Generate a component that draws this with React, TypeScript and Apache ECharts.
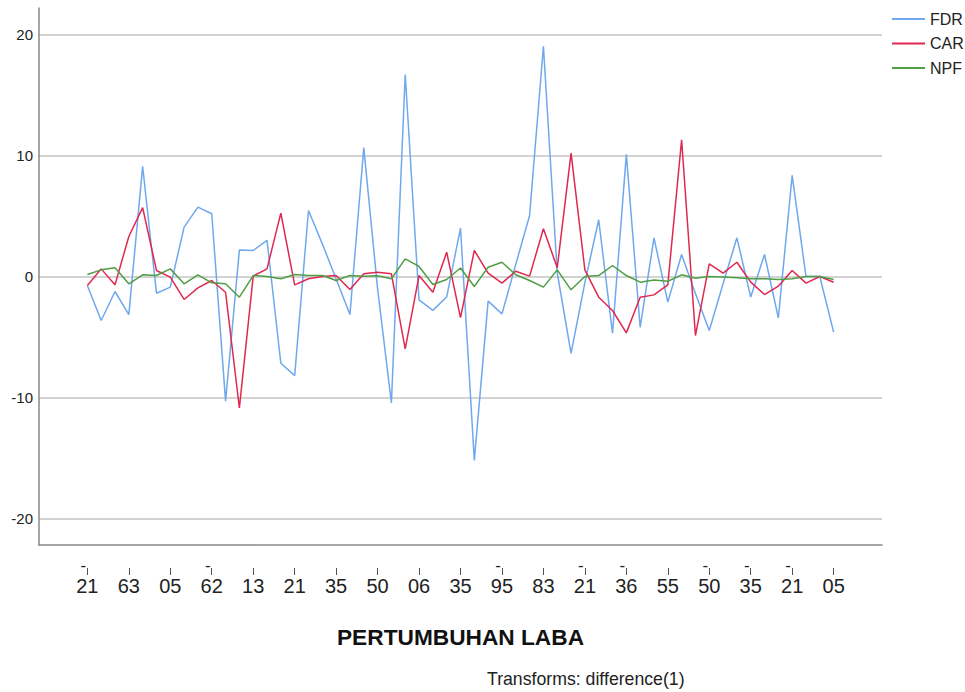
import React, { useEffect, useRef } from "react";
import * as echarts from "echarts";

// Tick labels shown every third observation
const categoryLabels = ["-21", "63", "05", "-62", "13", "21", "35", "50", "06", "35", "-95", "83", "-21", "-36", "55", "-50", "-35", "-21", "05"];
const labelStep = 3;

// Differenced series (55 observations)
const fdr = [-0.75, -3.64, -1.24, -3.15, 9.1, -1.38, -0.88, 4.08, 5.74, 5.19, -10.3, 2.2, 2.15, 2.98, -7.17, -8.2, 5.46, 2.7, -0.2, -3.15, 10.65, -1.0, -10.46, 16.7, -1.93, -2.8, -1.7, 4.0, -15.2, -2.04, -3.09, 1.0, 5.05, 19.04, 0.3, -6.35, -0.5, 4.69, -4.69, 10.1, -4.2, 3.2, -2.12, 1.82, -1.4, -4.47, -0.6, 3.2, -1.7, 1.82, -3.42, 8.36, 0, 0, -4.6];
const car = [-0.75, 0.63, -0.69, 3.31, 5.69, 0.5, -0.05, -1.9, -0.94, -0.33, -1.3, -10.87, 0.03, 0.63, 5.24, -0.69, -0.19, 0, 0.08, -1.08, 0.22, 0.36, 0.22, -5.99, 0.08, -1.3, 2.01, -3.4, 2.15, 0.28, -0.55, 0.44, 0.03, 3.95, 0.72, 10.2, 0.55, -1.71, -2.81, -4.66, -1.71, -1.52, -0.69, 11.31, -4.88, 1.05, 0.28, 1.18, -0.47, -1.49, -0.8, 0.5, -0.55, 0, -0.47];
const npf = [0.17, 0.55, 0.72, -0.6, 0.14, 0.08, 0.63, -0.6, 0.14, -0.52, -0.6, -1.71, 0.08, 0, -0.19, 0.17, 0.08, 0.08, -0.33, 0.08, 0.03, 0.06, -0.19, 1.46, 0.83, -0.66, -0.25, 0.7, -0.83, 0.77, 1.18, 0.14, -0.33, -0.88, 0.55, -1.1, 0, 0.08, 0.91, 0.08, -0.47, -0.28, -0.39, 0.14, -0.14, 0, -0.05, -0.11, -0.19, -0.19, -0.25, -0.19, 0, 0, -0.25];

const yTicks = [-20, -10, 0, 10, 20];
const seriesNames = ["FDR", "CAR", "NPF"];
const seriesColors = ["#6fa8ee", "#e0284f", "#4f9d45"];

const FONT = "'Liberation Sans', Arial, sans-serif";

export default function App() {
  const ref = useRef<HTMLDivElement>(null);
  useEffect(() => {
    const chart = echarts.init(ref.current!, null, { renderer: "svg" });
    const labelPositions = categoryLabels.map((_, k) => k * labelStep);
    const toPairs = (arr: number[]) => arr.map((v, i) => [i, v]);
    const option: any = {
      animation: false,
      backgroundColor: "#ffffff",
      grid: { left: 39, right: 83, top: 8, bottom: 147, containLabel: false },
      legend: {
        data: seriesNames,
        orient: "vertical",
        left: 887,
        top: 6,
        icon: "rect",
        itemWidth: 33,
        itemHeight: 2,
        itemGap: 8.5,
        textStyle: { fontSize: 16, color: "#222", fontFamily: FONT, lineHeight: 16 },
      },
      xAxis: [
        {
          type: "value",
          min: -3.5,
          max: 57.5,
          axisLine: { show: true, onZero: false, lineStyle: { color: "#888", width: 1.5 } },
          axisTick: { show: false },
          splitLine: { show: false },
          axisLabel: {
            customValues: labelPositions,
            margin: 15,
            formatter: (val: number) => {
              const lab = categoryLabels[Math.round(val / labelStep)] ?? "";
              if (lab.startsWith("-")) return "{m|-}\n{n|" + lab.slice(1) + "}";
              return "{e| }\n{n|" + lab + "}";
            },
            rich: {
              m: { fontSize: 17, lineHeight: 11, padding: [0, 8, 0, 0], color: "#222", fontFamily: FONT },
              e: { fontSize: 17, lineHeight: 11, fontFamily: FONT },
              n: { fontSize: 20, lineHeight: 30, color: "#222", fontFamily: FONT },
            },
          },
          name: "PERTUMBUHAN LABA",
          nameLocation: "middle",
          nameGap: 80,
          nameTextStyle: { fontSize: 22.7, fontWeight: "bold", color: "#111", fontFamily: FONT },
        },
        {
          type: "value",
          min: -3.5,
          max: 57.5,
          position: "bottom",
          offset: 23,
          axisLine: { show: false, onZero: false },
          axisTick: { show: true, length: 7, customValues: labelPositions, lineStyle: { color: "#555", width: 1 } },
          axisLabel: { show: false },
          splitLine: { show: false },
        },
      ],
      yAxis: {
        type: "value",
        min: -22.2,
        max: 22.2,
        axisLine: { show: true, onZero: false, lineStyle: { color: "#888", width: 1.5 } },
        axisTick: { show: false, customValues: yTicks },
        axisLabel: { customValues: yTicks, margin: 6, fontSize: 15, color: "#222", fontFamily: FONT },
        splitLine: { show: true, lineStyle: { color: "#c4c4c4", width: 1.6 } },
      },
      series: [fdr, car, npf].map((arr, s) => ({
        name: seriesNames[s],
        type: "line",
        xAxisIndex: 0,
        data: toPairs(arr),
        showSymbol: false,
        symbol: "none",
        color: seriesColors[s],
        lineStyle: { color: seriesColors[s], width: 1.5 },
      })),
      graphic: [
        {
          type: "text",
          left: 487,
          top: 670,
          style: { text: "Transforms: difference(1)", fontSize: 17.7, fill: "#222", fontFamily: FONT },
        },
      ],
    };
    chart.setOption(option);
    return () => chart.dispose();
  }, []);
  return (
    <div
      ref={ref}
      style={{ position: "fixed", left: 0, top: 0, width: 965, height: 692, background: "#fff" }}
    />
  );
}
